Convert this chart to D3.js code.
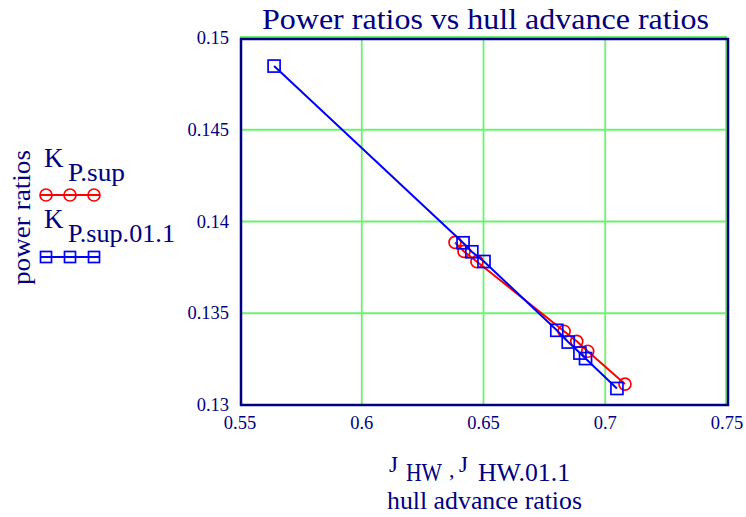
<!DOCTYPE html>
<html><head><meta charset="utf-8">
<script src="https://cdn.jsdelivr.net/npm/d3@7"></script>
<style>body{margin:0;background:#fff}svg{display:block}text{font-family:"Liberation Serif","Times New Roman",serif;fill:#000080}</style>
</head><body><svg id="c" width="746" height="517"></svg>
<script>
const xTicks = [0.55, 0.6, 0.65, 0.7, 0.75];
const yTicks = [0.13, 0.135, 0.14, 0.145, 0.15];
const xTickLabels = ["0.55", "0.6", "0.65", "0.7", "0.75"];
const yTickLabels = ["0.13", "0.135", "0.14", "0.145", "0.15"];
const jHW = [0.6383, 0.6420, 0.6473, 0.6831, 0.6883, 0.6928, 0.7081];
const kPsup = [0.13886, 0.13837, 0.13781, 0.13402, 0.13347, 0.13293, 0.13114];
const jHW011 = [0.5640, 0.6416, 0.6452, 0.6502, 0.6801, 0.6848, 0.6896, 0.6919, 0.7048];
const kPsup011 = [0.14847, 0.13884, 0.13835, 0.13782, 0.13407, 0.13343, 0.13283, 0.13253, 0.13090];

const svg = d3.select("#c");
const x = d3.scaleLinear().domain([0.55, 0.75]).range([240, 727]);
const y = d3.scaleLinear().domain([0.13, 0.15]).range([405, 38]);
const green = "#6cf26c", navy = "#000080";

// grid
const g = svg.append("g");
g.selectAll(".gx").data(xTicks.slice(1)).join("line")
  .attr("x1", d => x(d) - (d === 0.75 ? 1 : 0)).attr("x2", d => x(d) - (d === 0.75 ? 1 : 0))
  .attr("y1", y(0.15) - 1).attr("y2", y(0.13))
  .attr("stroke", green).attr("stroke-width", 1.8);
g.selectAll(".gy").data(yTicks.slice(1)).join("line")
  .attr("y1", d => y(d) - (d === 0.15 ? 1 : 0)).attr("y2", d => y(d) - (d === 0.15 ? 1 : 0))
  .attr("x1", x(0.55)).attr("x2", x(0.75))
  .attr("stroke", green).attr("stroke-width", 1.8);

// frame
svg.append("rect").attr("x", x(0.55) + 1).attr("y", y(0.15) + 1)
  .attr("width", x(0.75) - x(0.55)).attr("height", y(0.13) - y(0.15) - 1)
  .attr("fill", "none").attr("stroke", navy).attr("stroke-width", 2.5);

// tick labels
svg.selectAll(".xt").data(xTicks).join("text")
  .attr("x", d => x(d)).attr("y", 429).attr("text-anchor", "middle")
  .attr("font-size", 18.5).text((d, i) => xTickLabels[i]);
svg.selectAll(".yt").data(yTicks).join("text")
  .attr("x", 229).attr("y", d => y(d) + 6).attr("text-anchor", "end")
  .attr("font-size", 18.5).text((d, i) => yTickLabels[i]);

// title
svg.append("text").attr("x", 262).attr("y", 29)
  .attr("font-size", 30).attr("textLength", 447).attr("lengthAdjust", "spacingAndGlyphs")
  .text("Power ratios vs hull advance ratios");

// y axis label
svg.append("text").attr("transform", "translate(30,218) rotate(-90)")
  .attr("x", -67).attr("font-size", 26).attr("textLength", 135).attr("lengthAdjust", "spacingAndGlyphs")
  .text("power ratios");

// x axis labels
const xParts = [
  {t: "J", x: 389, y: 472, s: 23, w: 0},
  {t: "HW", x: 406, y: 481, s: 25, w: 36},
  {t: ",", x: 449, y: 477, s: 22, w: 0},
  {t: "J", x: 459, y: 472, s: 23, w: 0},
  {t: "HW.01.1", x: 478, y: 481, s: 25, w: 92}
];
xParts.forEach(d => {
  const t = svg.append("text").attr("x", d.x).attr("y", d.y).attr("font-size", d.s).text(d.t);
  if (d.w) t.attr("textLength", d.w).attr("lengthAdjust", "spacingAndGlyphs");
});
svg.append("text").attr("x", 387).attr("y", 509)
  .attr("font-size", 25).attr("textLength", 195).attr("lengthAdjust", "spacingAndGlyphs")
  .text("hull advance ratios");

// data
const line = d3.line().x(d => x(d[0])).y(d => y(d[1]));
const red = jHW.map((v, i) => [v, kPsup[i]]);
const blue = jHW011.map((v, i) => [v, kPsup011[i]]);
svg.append("path").datum(red).attr("d", line).attr("fill", "none").attr("stroke", "#ff0000").attr("stroke-width", 2);
svg.selectAll(".rc").data(red).join("circle").attr("cx", d => x(d[0])).attr("cy", d => y(d[1]))
  .attr("r", 6).attr("fill", "none").attr("stroke", "#ff0000").attr("stroke-width", 1.7);
svg.append("path").datum(blue).attr("d", line).attr("fill", "none").attr("stroke", "#0000ff").attr("stroke-width", 2);
svg.selectAll(".bs").data(blue).join("rect").attr("x", d => x(d[0]) - 6).attr("y", d => y(d[1]) - 6)
  .attr("width", 12).attr("height", 12).attr("fill", "none").attr("stroke", "#0000ff").attr("stroke-width", 1.7);

// legend
function legLabel(yb, sub, len) {
  svg.append("text").attr("x", 44).attr("y", yb).attr("font-size", 27).text("K");
  svg.append("text").attr("x", 68).attr("y", yb + 14).attr("font-size", 25)
    .attr("textLength", len).attr("lengthAdjust", "spacingAndGlyphs").text(sub);
}
legLabel(167, "P.sup", 57);
legLabel(228, "P.sup.01.1", 107);
const lx = [46, 70, 94];
svg.append("line").attr("x1", 40).attr("x2", 100).attr("y1", 195).attr("y2", 195).attr("stroke", "#ff0000").attr("stroke-width", 2);
svg.selectAll(".lc").data(lx).join("circle").attr("cx", d => d).attr("cy", 195).attr("r", 6)
  .attr("fill", "none").attr("stroke", "#ff0000").attr("stroke-width", 1.7);
svg.append("line").attr("x1", 40).attr("x2", 100).attr("y1", 257).attr("y2", 257).attr("stroke", "#0000ff").attr("stroke-width", 2);
svg.selectAll(".ls").data(lx).join("rect").attr("x", d => d - 5.5).attr("y", 251.5).attr("width", 11).attr("height", 11)
  .attr("fill", "none").attr("stroke", "#0000ff").attr("stroke-width", 1.7);
</script></body></html>
